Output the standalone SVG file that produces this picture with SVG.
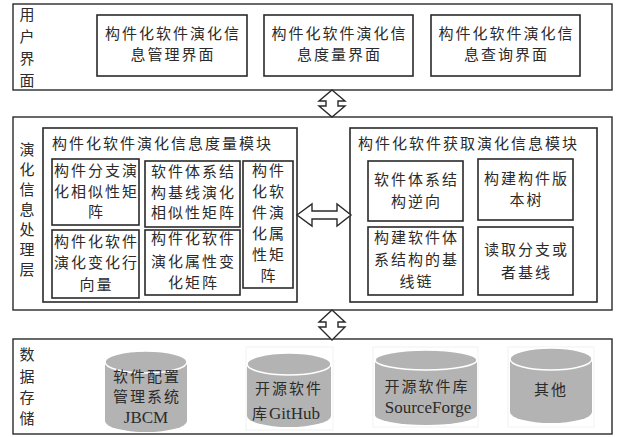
<svg xmlns="http://www.w3.org/2000/svg" width="618" height="437" viewBox="0 0 618 437">
<style>
.frame{fill:#fff;stroke:#2a2a2a;stroke-width:1.4}
.box{fill:#fff;stroke:#2a2a2a;stroke-width:1.6}
.t{font-family:"Noto Sans CJK SC","Noto Sans CJK JP",sans-serif;font-size:15px;fill:#2b2b2b;letter-spacing:2px;text-anchor:middle}
.ts{font-family:"Noto Sans CJK SC","Noto Sans CJK JP",sans-serif;font-size:15px;fill:#2b2b2b;letter-spacing:2px}
.lat{font-family:"Liberation Serif","Times New Roman",serif;font-size:17px;letter-spacing:0}
.cyl{fill:#b3b3b3}
.cyltop{fill:#b3b3b3;stroke:#fff;stroke-width:1.6}
.faint{fill:none;stroke:#f2f2f2;stroke-width:1}
.arrow{fill:#fff;stroke:#2a2a2a;stroke-width:1.4;stroke-linejoin:miter}
</style>
<rect width="618" height="437" fill="#fff"/>

<g id="layer-ui">
  <rect class="frame" x="13" y="4" width="599" height="86"/>
  <text class="t" x="28" y="19.5">用</text>
  <text class="t" x="28" y="41.5">户</text>
  <text class="t" x="28" y="63.5">界</text>
  <text class="t" x="28" y="85.5">面</text>
</g>
<g id="ui-manage">
  <rect class="box" x="97" y="15" width="150" height="61"/>
  <text class="t" x="173" y="39">构件化软件演化信</text>
  <text class="t" x="173" y="60">息管理界面</text>
</g>
<g id="ui-measure">
  <rect class="box" x="264" y="15" width="149" height="61"/>
  <text class="t" x="339.5" y="39">构件化软件演化信</text>
  <text class="t" x="339.5" y="60">息度量界面</text>
</g>
<g id="ui-query">
  <rect class="box" x="431" y="15" width="149" height="61"/>
  <text class="t" x="506.5" y="39">构件化软件演化信</text>
  <text class="t" x="506.5" y="60">息查询界面</text>
</g>

<g id="layer-processing">
  <rect class="frame" x="13" y="117" width="599" height="193"/>
  <text class="t" x="28" y="154.5">演</text>
  <text class="t" x="28" y="174.5">化</text>
  <text class="t" x="28" y="194.5">信</text>
  <text class="t" x="28" y="214.5">息</text>
  <text class="t" x="28" y="234.5">处</text>
  <text class="t" x="28" y="254.5">理</text>
  <text class="t" x="28" y="274.5">层</text>
</g>
<g id="module-measure">
  <rect class="box" x="43" y="128" width="254" height="174"/>
  <text class="ts" x="52" y="148.5">构件化软件演化信息度量模块</text>
</g>
<g id="m-branch-sim">
  <rect class="box" x="52" y="159" width="87" height="66"/>
  <text class="t" x="96.5" y="176">构件分支演</text>
  <text class="t" x="96.5" y="197">化相似性矩</text>
  <text class="t" x="96.5" y="217">阵</text>
</g>
<g id="m-baseline-sim">
  <rect class="box" x="145" y="161" width="95" height="66"/>
  <text class="t" x="193.5" y="177">软件体系结</text>
  <text class="t" x="193.5" y="198">构基线演化</text>
  <text class="t" x="193.5" y="218">相似性矩阵</text>
</g>
<g id="m-attr-matrix">
  <rect class="box" x="243" y="161" width="50" height="127"/>
  <text class="t" x="269" y="176">构件</text>
  <text class="t" x="269" y="197">化软</text>
  <text class="t" x="269" y="218">件演</text>
  <text class="t" x="269" y="239">化属</text>
  <text class="t" x="269" y="260">性矩</text>
  <text class="t" x="269" y="281">阵</text>
</g>
<g id="m-change-vector">
  <rect class="box" x="52" y="230" width="87" height="68"/>
  <text class="t" x="96.5" y="247">构件化软件</text>
  <text class="t" x="96.5" y="268">演化变化行</text>
  <text class="t" x="96.5" y="290">向量</text>
</g>
<g id="m-attr-change">
  <rect class="box" x="145" y="230" width="95" height="65"/>
  <text class="t" x="193.5" y="244">构件化软件</text>
  <text class="t" x="193.5" y="267">演化属性变</text>
  <text class="t" x="193.5" y="288">化矩阵</text>
</g>

<g id="module-acquire">
  <rect class="box" x="350" y="128" width="247" height="174"/>
  <text class="ts" x="358" y="148.5">构件化软件获取演化信息模块</text>
</g>
<g id="a-reverse">
  <rect class="box" x="368" y="161" width="95" height="60"/>
  <text class="t" x="416.5" y="185">软件体系结</text>
  <text class="t" x="416.5" y="207">构逆向</text>
</g>
<g id="a-version-tree">
  <rect class="box" x="478" y="159" width="95" height="61"/>
  <text class="t" x="526.5" y="184">构建构件版</text>
  <text class="t" x="526.5" y="205">本树</text>
</g>
<g id="a-baseline-chain">
  <rect class="box" x="368" y="227" width="95" height="68"/>
  <text class="t" x="416.5" y="243">构建软件体</text>
  <text class="t" x="416.5" y="265">系结构的基</text>
  <text class="t" x="416.5" y="287">线链</text>
</g>
<g id="a-read-branch">
  <rect class="box" x="478" y="227" width="95" height="68"/>
  <text class="t" x="526.5" y="255">读取分支或</text>
  <text class="t" x="526.5" y="278">者基线</text>
</g>

<g id="layer-storage">
  <rect class="frame" x="13" y="339" width="599" height="95"/>
  <text class="t" x="28" y="360">数</text>
  <text class="t" x="28" y="382">据</text>
  <text class="t" x="28" y="403">存</text>
  <text class="t" x="28" y="424">储</text>
</g>
<g id="db-jbcm">
  <path class="cyl" d="M105,362 V421 A41,11 0 0 0 187,421 V362 Z"/>
  <ellipse class="cyltop" cx="146" cy="362" rx="41" ry="11"/>
  <text class="t" x="147" y="382">软件配置</text>
  <text class="t" x="147" y="402">管理系统</text>
  <text class="t lat" x="146" y="423">JBCM</text>
</g>
<g id="db-github">
  <rect class="faint" x="246" y="347" width="87" height="83"/>
  <path class="cyl" d="M247,364 V416 A42,11 0 0 0 331,416 V364 Z"/>
  <ellipse class="cyltop" cx="289" cy="364" rx="42" ry="11"/>
  <text class="t" x="289" y="394">开源软件</text>
  <text class="t" x="286" y="419">库<tspan class="lat">GitHub</tspan></text>
</g>
<g id="db-sourceforge">
  <rect class="faint" x="373" y="347" width="105" height="80"/>
  <path class="cyl" d="M375,360 V415 A51,10 0 0 0 477,415 V360 Z"/>
  <ellipse class="cyltop" cx="426" cy="360" rx="51" ry="10"/>
  <text class="t" x="427" y="392">开源软件库</text>
  <text class="t lat" x="428" y="413">SourceForge</text>
</g>
<g id="db-other">
  <rect class="faint" x="508" y="347" width="86" height="80"/>
  <path class="cyl" d="M510,359 V412 A41,11 0 0 0 592,412 V359 Z"/>
  <ellipse class="cyltop" cx="551" cy="359" rx="41" ry="11"/>
  <text class="t" x="551" y="395">其他</text>
</g>

<g id="connectors">
  <polygon class="arrow" points="332,90 345,101 338,101 338,106 345,106 332,117 319,106 326,106 326,101 319,101"/>
  <polygon class="arrow" points="297,215 312,204 312,211 337,211 337,204 351,215 337,226 337,219 312,219 312,226"/>
  <polygon class="arrow" points="332,310 345,322 338,322 338,327 345,327 332,340 319,327 326,327 326,322 319,322"/>
</g>
</svg>
